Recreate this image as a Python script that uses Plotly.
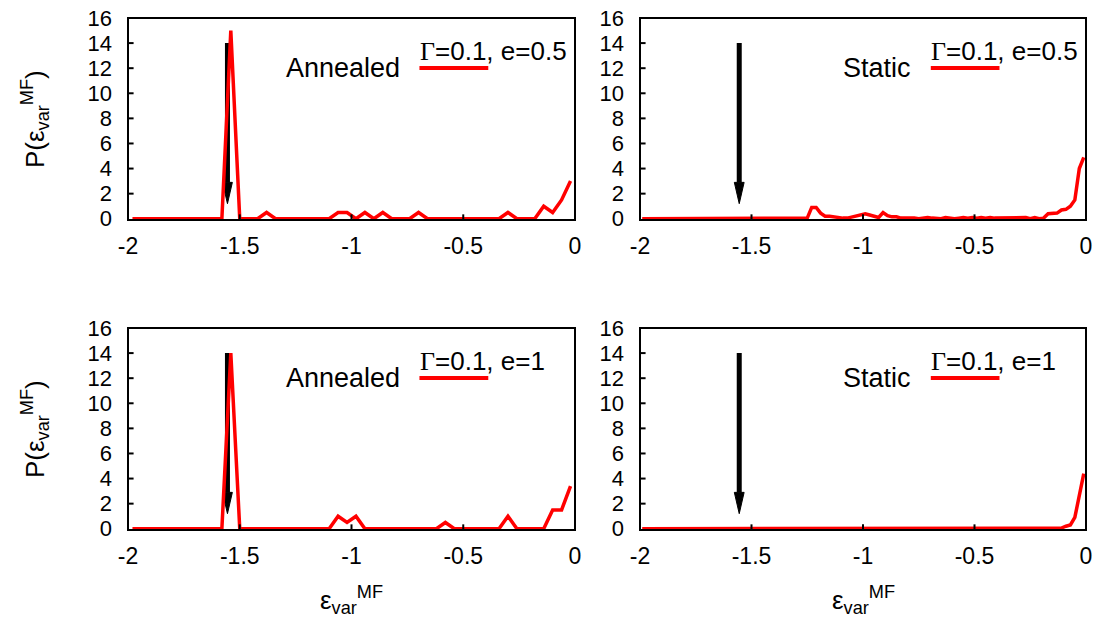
import plotly.graph_objects as go
from plotly.subplots import make_subplots

# ---------------- data ----------------
x_annealed = [-1.98, -1.94, -1.90, -1.86, -1.82, -1.78, -1.74, -1.70, -1.66, -1.62,
              -1.58, -1.54, -1.50, -1.46, -1.42, -1.38, -1.34, -1.30, -1.26, -1.22,
              -1.18, -1.14, -1.10, -1.06, -1.02, -0.98, -0.94, -0.90, -0.86, -0.82,
              -0.78, -0.74, -0.70, -0.66, -0.62, -0.58, -0.54, -0.50, -0.46, -0.42,
              -0.38, -0.34, -0.30, -0.26, -0.22, -0.18, -0.14, -0.10, -0.06, -0.02]

p_annealed_e05 = [0, 0, 0, 0, 0, 0, 0, 0, 0, 0,
                  0, 15, 0, 0, 0, 0.5, 0, 0, 0, 0,
                  0, 0, 0, 0.5, 0.5, 0, 0.5, 0, 0.5, 0,
                  0, 0, 0.5, 0, 0, 0, 0, 0, 0, 0,
                  0, 0, 0.5, 0, 0, 0, 1, 0.5, 1.5, 3]

p_annealed_e1 = [0, 0, 0, 0, 0, 0, 0, 0, 0, 0,
                 0, 14, 0, 0, 0, 0, 0, 0, 0, 0,
                 0, 0, 0, 1, 0.5, 1, 0, 0, 0, 0,
                 0, 0, 0, 0, 0, 0.5, 0, 0, 0, 0,
                 0, 0, 1, 0, 0, 0, 0, 1.5, 1.5, 3.4]

x_static = [-1.99, -1.97, -1.95, -1.93, -1.91, -1.89, -1.87, -1.85, -1.83, -1.81,
            -1.79, -1.77, -1.75, -1.73, -1.71, -1.69, -1.67, -1.65, -1.63, -1.61,
            -1.59, -1.57, -1.55, -1.53, -1.51, -1.49, -1.47, -1.45, -1.43, -1.41,
            -1.39, -1.37, -1.35, -1.33, -1.31, -1.29, -1.27, -1.25, -1.23, -1.21,
            -1.19, -1.17, -1.15, -1.13, -1.11, -1.09, -1.07, -1.05, -1.03, -1.01,
            -0.99, -0.97, -0.95, -0.93, -0.91, -0.89, -0.87, -0.85, -0.83, -0.81,
            -0.79, -0.77, -0.75, -0.73, -0.71, -0.69, -0.67, -0.65, -0.63, -0.61,
            -0.59, -0.57, -0.55, -0.53, -0.51, -0.49, -0.47, -0.45, -0.43, -0.41,
            -0.39, -0.37, -0.35, -0.33, -0.31, -0.29, -0.27, -0.25, -0.23, -0.21,
            -0.19, -0.17, -0.15, -0.13, -0.11, -0.09, -0.07, -0.05, -0.03, -0.01]

p_static_e05 = [0, 0, 0, 0, 0, 0, 0, 0, 0, 0,
                0, 0, 0, 0, 0, 0, 0, 0, 0, 0,
                0, 0, 0, 0, 0, 0, 0, 0, 0, 0,
                0, 0, 0, 0, 0, 0, 0, 0.05, 0.9, 0.9,
                0.45, 0.2, 0.2, 0.15, 0.05, 0.05, 0.05, 0.15, 0.25, 0.35,
                0.4, 0.3, 0.2, 0.1, 0.5, 0.25, 0.15, 0.15, 0.05, 0.05,
                0.1, 0.05, 0.0, 0.05, 0.1, 0.05, 0.05, 0.0, 0.1, 0.05,
                0.0, 0.05, 0.1, 0.05, 0.1, 0.05, 0.1, 0.05, 0.1, 0.05,
                0.05, 0.1, 0.05, 0.1, 0.1, 0.05, 0.1, 0.0, 0.1, 0.0,
                0.05, 0.4, 0.4, 0.45, 0.7, 0.75, 1.0, 1.5, 4.0, 4.9]

p_static_e1 = [0, 0, 0, 0, 0, 0, 0, 0, 0, 0,
               0, 0, 0, 0, 0, 0, 0, 0, 0, 0,
               0, 0, 0, 0, 0, 0, 0, 0, 0, 0,
               0, 0, 0, 0, 0, 0, 0, 0, 0, 0,
               0, 0, 0, 0, 0, 0, 0, 0, 0, 0,
               0, 0, 0, 0, 0, 0, 0, 0, 0, 0,
               0, 0, 0, 0, 0, 0, 0, 0, 0, 0,
               0, 0, 0, 0, 0, 0, 0, 0, 0, 0,
               0, 0, 0, 0, 0, 0, 0, 0, 0, 0,
               0.05, 0.05, 0.05, 0.0, 0.05, 0.2, 0.3, 0.9, 2.6, 4.4]

panel_labels = ["Annealed", "Static", "Annealed", "Static"]
panel_keys = ["0.5", "0.5", "1", "1"]

x_tickvals = [-2, -1.5, -1, -0.5, 0]
x_ticktext = ["-2", "-1.5", "-1", "-0.5", "0"]
y_tickvals = [0, 2, 4, 6, 8, 10, 12, 14, 16]
y_ticktext = ["0", "2", "4", "6", "8", "10", "12", "14", "16"]

# arrow marking the ground-state energy
arrow_x = -1.555
arrow_top = 14
arrow_head_base = 2.9
arrow_tip = 1.2
arrow_half_width = 0.022

# ---------------- figure ----------------
FONT = "Liberation Sans, Arial, sans-serif"
RED = "#ff0000"
FRAME = "black"

fig = make_subplots(rows=2, cols=2)

series = [(x_annealed, p_annealed_e05, 1, 1),
          (x_static, p_static_e05, 1, 2),
          (x_annealed, p_annealed_e1, 2, 1),
          (x_static, p_static_e1, 2, 2)]

for xs, ys, r, c in series:
    # arrow (drawn first so the red curve passes over it)
    fig.add_trace(go.Scatter(x=[arrow_x, arrow_x], y=[arrow_top, arrow_head_base],
                             mode="lines", line=dict(color="black", width=5),
                             showlegend=False, hoverinfo="skip"),
                  row=r, col=c)
    fig.add_trace(go.Scatter(x=[arrow_x - arrow_half_width, arrow_x + arrow_half_width,
                                arrow_x, arrow_x - arrow_half_width],
                             y=[arrow_head_base, arrow_head_base, arrow_tip, arrow_head_base],
                             mode="lines", fill="toself", fillcolor="black",
                             line=dict(color="black", width=1),
                             showlegend=False, hoverinfo="skip"),
                  row=r, col=c)
    fig.add_trace(go.Scatter(x=xs, y=ys, mode="lines",
                             line=dict(color=RED, width=3.5),
                             showlegend=False, hoverinfo="skip"),
                  row=r, col=c)

x_domains = {1: [128 / 1099, 575 / 1099], 2: [640 / 1099, 1086 / 1099]}
y_domains = {1: [1 - 220 / 619, 1 - 18 / 619], 2: [1 - 530 / 619, 1 - 328 / 619]}

axis_ids = {(1, 1): "", (1, 2): "2", (2, 1): "3", (2, 2): "4"}

for (r, c), sfx in axis_ids.items():
    xa = dict(domain=x_domains[c], range=[-2, 0], automargin=False,
              tickmode="array", tickvals=x_tickvals, ticktext=x_ticktext,
              ticks="", showline=False,
              showgrid=False, zeroline=False, ticklabelstandoff=10,
              tickfont=dict(family=FONT, size=23, color="black"))
    ya = dict(domain=y_domains[r], range=[-0.1, 16], automargin=False,
              tickmode="array", tickvals=y_tickvals, ticktext=y_ticktext,
              ticks="", showline=False,
              showgrid=False, zeroline=False, ticklabelstandoff=15,
              tickfont=dict(family=FONT, size=22, color="black"))
    fig.layout["xaxis" + sfx].update(**xa)
    fig.layout["yaxis" + sfx].update(**ya)

shapes = []
annotations = []
for i, ((r, c), sfx) in enumerate(axis_ids.items()):
    xr = "x" + sfx
    yr = "y" + sfx
    # panel frame
    shapes.append(dict(type="rect", xref=xr + " domain", yref=yr + " domain",
                       x0=0, x1=1, y0=0, y1=1, layer="above",
                       fillcolor="rgba(0,0,0,0)", line=dict(color=FRAME, width=2)))
    # inside tick marks placed at the tick values
    for v in x_tickvals[1:-1]:
        shapes.append(dict(type="line", xref=xr, yref=yr + " domain", layer="above",
                           x0=v, x1=v, y0=0, y1=0.028,
                           line=dict(color=FRAME, width=2)))
    for v in y_tickvals[1:-1]:
        shapes.append(dict(type="line", xref=xr + " domain", yref=yr, layer="above",
                           x0=0, x1=0.0125, y0=v, y1=v,
                           line=dict(color=FRAME, width=2)))
    # key sample line
    shapes.append(dict(type="line", xref=xr + " domain", yref=yr + " domain",
                       x0=0.652, x1=0.806, y0=0.752, y1=0.752,
                       line=dict(color=RED, width=4)))
    annotations.append(dict(xref=xr + " domain", yref=yr + " domain",
                            x=0.613, y=0.752, xanchor="right", yanchor="middle",
                            text=panel_labels[i], showarrow=False,
                            font=dict(family=FONT, size=27, color="black")))
    annotations.append(dict(xref=xr + " domain", yref=yr + " domain",
                            x=0.649, y=0.835, xanchor="left", yanchor="middle",
                            text="<span style='font-family:Liberation Serif, Times New Roman, serif'>Γ</span>=0.1, e="
                                 + panel_keys[i],
                            showarrow=False,
                            font=dict(family=FONT, size=26, color="black")))

ylab = "P(ε<sub>var</sub><sup>MF</sup>)"
xlab = "ε<sub>var</sub><sup>MF</sup>"
annotations.append(dict(xref="paper", yref="paper", x=35 / 1099, y=1 - 119 / 619,
                        xanchor="center", yanchor="middle", textangle=-90,
                        text=ylab, showarrow=False,
                        font=dict(family=FONT, size=26, color="black")))
annotations.append(dict(xref="paper", yref="paper", x=35 / 1099, y=1 - 429 / 619,
                        xanchor="center", yanchor="middle", textangle=-90,
                        text=ylab, showarrow=False,
                        font=dict(family=FONT, size=26, color="black")))
annotations.append(dict(xref="paper", yref="paper", x=351 / 1099, y=1 - 600 / 619,
                        xanchor="center", yanchor="middle",
                        text=xlab, showarrow=False,
                        font=dict(family=FONT, size=26, color="black")))
annotations.append(dict(xref="paper", yref="paper", x=863 / 1099, y=1 - 600 / 619,
                        xanchor="center", yanchor="middle",
                        text=xlab, showarrow=False,
                        font=dict(family=FONT, size=26, color="black")))

fig.update_layout(template="none", width=1099, height=619,
                  margin=dict(l=0, r=0, t=0, b=0, pad=0),
                  paper_bgcolor="white", plot_bgcolor="white",
                  showlegend=False, shapes=shapes, annotations=annotations)

fig.write_html("out.html")
